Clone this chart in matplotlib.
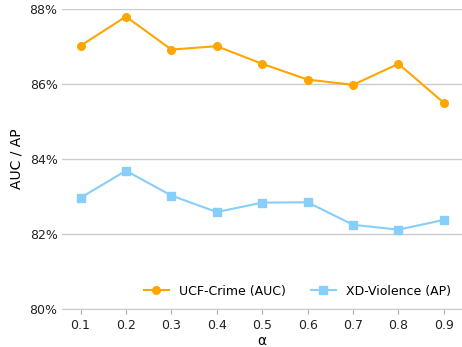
import matplotlib
matplotlib.use("Agg")
import matplotlib.pyplot as plt
from matplotlib.ticker import FuncFormatter

alphas = [0.1, 0.2, 0.3, 0.4, 0.5, 0.6, 0.7, 0.8, 0.9]
ucf_auc = [87.01, 87.79, 86.91, 87.00, 86.53, 86.11, 85.97, 86.53, 85.49]
xd_ap = [82.96, 83.68, 83.02, 82.58, 82.83, 82.84, 82.24, 82.11, 82.37]

fig, ax = plt.subplots(figsize=(4.62, 3.47), dpi=100)

ax.plot(alphas, ucf_auc, "-o", color="#FFA500", lw=1.5, markersize=5.5,
        label="UCF-Crime (AUC)")
ax.plot(alphas, xd_ap, "-s", color="#87CEFA", lw=1.5, markersize=5.5,
        label="XD-Violence (AP)")

ax.set_xlim(0.06, 0.94)
ax.set_ylim(80, 88)
ax.set_xticks(alphas)
ax.set_yticks([80, 82, 84, 86, 88])
ax.yaxis.set_major_formatter(FuncFormatter(lambda v, _: f"{v:.0f}%"))

# light horizontal grid only, no frame except the bottom line
ax.grid(True, axis="y", color="#cccccc", lw=1)
ax.set_axisbelow(True)
for s in ["top", "right", "left"]:
    ax.spines[s].set_visible(False)
ax.spines["bottom"].set_color("#cccccc")
ax.tick_params(axis="y", length=0, labelsize=9, colors="#222222")
ax.tick_params(axis="x", color="#aaaaaa", labelsize=9, colors="#222222")

ax.set_xlabel("α", fontsize=10, labelpad=2)
ax.set_ylabel("AUC / AP", fontsize=10)
ax.legend(loc="lower right", ncol=2, frameon=False, fontsize=9,
          bbox_to_anchor=(1.0, 0.0), columnspacing=2.0)

fig.subplots_adjust(left=0.135, right=1.0, top=0.975, bottom=0.11)
fig.savefig("out.png", dpi=100)
